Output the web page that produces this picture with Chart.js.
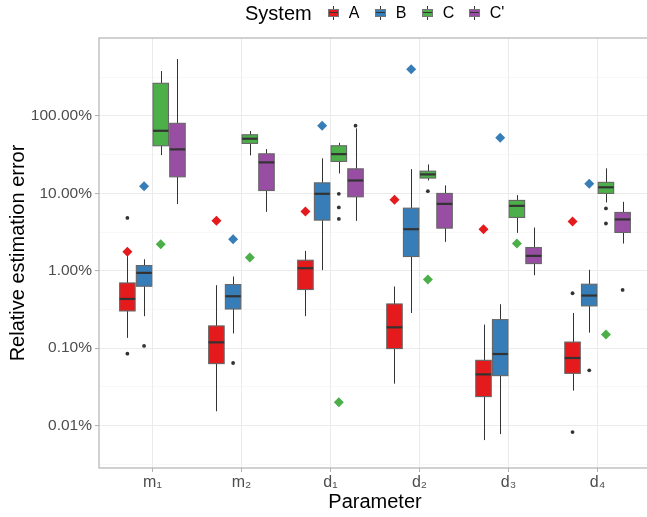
<!DOCTYPE html>
<html>
<head>
<meta charset="utf-8">
<script src="https://cdn.jsdelivr.net/npm/chart.js@4"></script>
<style>
    body { margin: 0; background: #fff; }
    #wrap { position: relative; width: 647px; height: 517px; overflow: hidden; }
    #legend {
        position: absolute; top: 1px; left: 245px; height: 24px;
        display: flex; align-items: center;
        font-family: 'Liberation Sans', Arial, sans-serif; color: #000;
    }
    #legend .title { font-size: 20px; margin-right: 13px; }
    #legend .item { display: flex; align-items: center; width: 47px; font-size: 16px; }
    #legend .key { position: relative; width: 17px; height: 17px; margin-right: 7px; }
    #legend .key .whisker { position: absolute; left: 8px; top: 1px; width: 1px; height: 14px; background: #333; }
    #legend .key .box { position: absolute; left: 3px; top: 4px; width: 9px; height: 6px; border: 1px solid #777; }
    #legend .key .med { position: absolute; left: 4px; top: 7px; width: 9px; height: 1px; background: #333; }
</style>
</head>
<body>
<div id="wrap">
    <div id="legend"></div>
    <canvas id="chart" width="660" height="517"></canvas>
</div>
<script>
const params = ['m₁', 'm₂', 'd₁', 'd₂', 'd₃', 'd₄'];
const systems = ['A', 'B', 'C', "C'"];
const colors = ['#E41A1C', '#377EB8', '#4DAF4A', '#984EA3'];

// box stats per parameter: [low whisker, q1, median, q3, high whisker] (in %)
const boxA = [
    [0.136, 0.303, 0.433, 0.697, 1.55],
    [0.0153, 0.0632, 0.119, 0.194, 0.652],
    [0.259, 0.573, 1.08, 1.37, 1.81],
    [0.0348, 0.0989, 0.186, 0.373, 0.627],
    [0.00649, 0.0237, 0.0459, 0.0697, 0.202],
    [0.0283, 0.0473, 0.0747, 0.120, 0.285]
];
const boxB = [
    [0.259, 0.632, 0.94, 1.17, 1.41],
    [0.155, 0.321, 0.469, 0.665, 0.844],
    [1.02, 4.52, 9.89, 13.7, 28.4],
    [0.285, 1.53, 3.45, 6.45, 20.6],
    [0.00776, 0.0442, 0.0841, 0.234, 0.37],
    [0.159, 0.352, 0.479, 0.671, 1.03]
];
const boxC = [
    [31.3, 41.3, 64.5, 265, 382],
    [31, 44.3, 50.9, 57.3, 64],
    [18.1, 25.9, 32.2, 41.3, 45.1],
    [14.7, 15.8, 17.6, 19.4, 23.7],
    [3.09, 4.89, 6.91, 8.12, 9.51],
    [7.65, 10.0, 12.0, 13.9, 21.1]
];
const boxCp = [
    [7.27, 16.4, 37.1, 80.5, 546],
    [5.78, 10.9, 25.2, 32.5, 37.4],
    [4.42, 9.04, 14.7, 20.8, 69.3],
    [2.37, 3.56, 7.33, 10.0, 12.7],
    [0.877, 1.24, 1.56, 2.0, 3.63],
    [2.25, 3.13, 4.61, 5.68, 7.79]
];

// outlier dots per parameter
const outA = [[4.83, 0.085], [], [], [], [], [0.513, 0.00824]];
const outB = [[0.107], [0.0644], [], [], [], [0.0518]];
const outC = [[], [], [9.89, 6.59, 4.69], [10.7], [], [6.4, 4.09]];
const outCp = [[], [], [75], [], [], [0.566]];

// diamond markers per parameter
const markA = [1.76, 4.42, 5.85, 8.26, 3.45, 4.34];
const markB = [12.4, 2.56, 75, 402, 52.4, 13.3];
const markC = [2.21, 1.49, 0.02, 0.771, 2.25, 0.15];
const markCp = [];

const yMajor = [0.01, 0.1, 1, 10, 100];
const yMinor = [0.00316, 0.0316, 0.316, 3.16, 31.6, 316];

const boxes = [boxA, boxB, boxC, boxCp];
const outliers = [outA, outB, outC, outCp];
const marks = [markA, markB, markC, markCp];

const dodge = [-0.28125, -0.09375, 0.09375, 0.28125];
const halfWidth = 0.087;
const font = "'Liberation Sans', Arial, sans-serif";
Chart.defaults.font.family = font;

// legend (html)
const legend = document.getElementById('legend');
legend.innerHTML = '<span class="title">System</span>' + systems.map((s, i) => `
    <span class="item">
        <span class="key"><span class="whisker"></span><span class="box" style="background:${colors[i]}"></span><span class="med"></span></span>
        <span>${s}</span>
    </span>`).join('');

const datasets = [];
marks.forEach((m, si) => {
    datasets.push({
        data: m.map((v, pi) => ({ x: pi + 1 + dodge[si], y: v })),
        pointStyle: 'rectRot', pointRadius: 5, backgroundColor: colors[si], borderWidth: 0
    });
});
outliers.forEach((o, si) => {
    const pts = [];
    o.forEach((vals, pi) => vals.forEach(v => pts.push({ x: pi + 1 + dodge[si], y: v })));
    datasets.push({ data: pts, pointRadius: 1.9, backgroundColor: '#333', borderWidth: 0 });
});

const boxPlugin = {
    id: 'boxes',
    beforeDatasetsDraw(chart) {
        const { ctx, scales: { x, y } } = chart;
        ctx.save();
        boxes.forEach((sys, si) => {
            sys.forEach((b, pi) => {
                const cx = pi + 1 + dodge[si];
                const xc = Math.round(x.getPixelForValue(cx)) + 0.5;
                const l = x.getPixelForValue(cx - halfWidth);
                const r = x.getPixelForValue(cx + halfWidth);
                const [lo, q1, med, q3, hi] = b.map(v => y.getPixelForValue(v));
                ctx.strokeStyle = '#333';
                ctx.lineWidth = 1;
                ctx.beginPath();
                ctx.moveTo(xc, hi); ctx.lineTo(xc, q3);
                ctx.moveTo(xc, q1); ctx.lineTo(xc, lo);
                ctx.stroke();
                ctx.fillStyle = colors[si];
                ctx.fillRect(l, q3, r - l, q1 - q3);
                ctx.strokeStyle = '#666';
                ctx.lineWidth = 1.1;
                ctx.strokeRect(l, q3, r - l, q1 - q3);
                ctx.strokeStyle = '#333';
                ctx.lineWidth = 2.2;
                ctx.beginPath();
                ctx.moveTo(l, med); ctx.lineTo(r, med);
                ctx.stroke();
            });
        });
        ctx.restore();
    },
    afterDraw(chart) {
        const { ctx, chartArea: a } = chart;
        ctx.save();
        ctx.strokeStyle = '#b3b3b3';
        ctx.lineWidth = 1.2;
        ctx.strokeRect(a.left, a.top, a.right - a.left, a.bottom - a.top);
        ctx.restore();
    }
};

const isMajor = v => yMajor.some(m => Math.abs(m - v) / m < 1e-6);

new Chart(document.getElementById('chart'), {
    type: 'scatter',
    data: { datasets },
    options: {
        responsive: false,
        animation: false,
        events: [],
        layout: { padding: { top: 38, right: 9, left: 0, bottom: 0 } },
        plugins: { legend: { display: false }, tooltip: { enabled: false } },
        scales: {
            x: {
                type: 'linear', min: 0.4, max: 6.6,
                afterBuildTicks: s => { s.ticks = params.map((p, i) => ({ value: i + 1 })); },
                afterFit: s => { s.height = 49; },
                ticks: {
                    callback: v => params[v - 1], color: '#4d4d4d',
                    font: { size: 16 }, padding: 1, maxRotation: 0, autoSkip: false
                },
                grid: { color: '#ebebeb', lineWidth: 1, tickColor: '#b3b3b3', tickLength: 4 },
                border: { display: false },
                title: { display: true, text: 'Parameter', color: '#000', font: { size: 20 }, padding: { top: 0, bottom: 3 } }
            },
            y: {
                type: 'logarithmic', min: 0.00283, max: 1020,
                afterBuildTicks: s => { s.ticks = [...yMajor, ...yMinor].sort((a, b) => a - b).map(v => ({ value: v })); },
                afterFit: s => { s.width = 99; },
                ticks: {
                    callback: v => isMajor(v) ? v.toFixed(2) + '%' : '',
                    color: '#4d4d4d', font: { size: 15.5 }, padding: 3, autoSkip: false
                },
                grid: {
                    color: c => isMajor(c.tick.value) ? '#ebebeb' : '#f4f4f4',
                    lineWidth: c => isMajor(c.tick.value) ? 1.1 : 0.6,
                    tickColor: c => isMajor(c.tick.value) ? '#b3b3b3' : 'rgba(0,0,0,0)',
                    tickLength: 4
                },
                border: { display: false },
                title: { display: true, text: 'Relative estimation error', color: '#000', font: { size: 20 }, padding: { top: 6, bottom: 0 } }
            }
        }
    },
    plugins: [boxPlugin]
});
</script>
</body>
</html>
